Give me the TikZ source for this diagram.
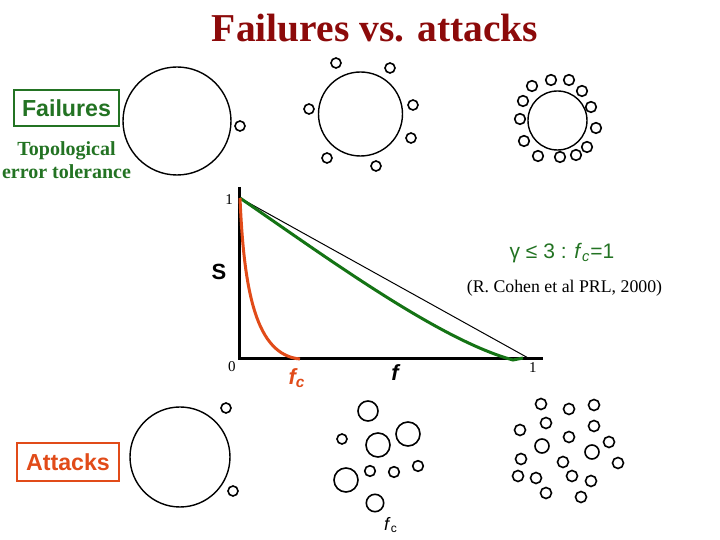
\documentclass[tikz,border=0pt]{standalone}
\usepackage{fontspec}
\setmainfont{Liberation Serif}
\setsansfont{Liberation Sans}
\usetikzlibrary{positioning}
\definecolor{titlered}{RGB}{140,10,10}
\definecolor{failgreen}{RGB}{35,115,35}
\definecolor{curvegreen}{RGB}{20,115,20}
\definecolor{attackred}{RGB}{225,75,25}

\begin{document}
\begin{tikzpicture}[x=0.5pt,y=-0.5pt,
  hub/.style={line width=0.7pt},
  leaf/.style={line width=0.8pt},
  labelbox/.style={draw,line width=1pt,inner sep=0pt,font=\sffamily\bfseries\fontsize{11.6}{14}\selectfont},
  axisline/.style={line width=1.5pt},
  tick/.style={font=\fontsize{7.5}{9}\selectfont}]
\useasboundingbox (0,0) rectangle (720,540);
\node[titlered,font=\bfseries\fontsize{19.75}{22}\selectfont] (title) at (375,28) {Failures vs. attacks};

% failures row
\node[labelbox,failgreen,minimum width=52.5pt,minimum height=18pt] (failbox) at (66.5,108) {Failures};
\node[below=4pt of failbox,failgreen,align=center,font=\bfseries\fontsize{10}{11.5}\selectfont] (tolerance) {Topological\\error tolerance};
\draw[hub] (177,121) circle (54);
\draw[leaf] (240,126) circle (5);
\draw[hub] (360.5,114) circle (42);
\foreach \x/\y in {336/63,390/68,309/109,413/105,411/138,327/158,376/166}
  \draw[leaf] (\x,\y) circle (5);
\draw[hub] (557.5,120.5) circle (29.5);
\foreach \x/\y in {532/86,551/80,569/80,582/91,591/107,596/128,587/147,576/155,560/157,538/156,524/141,520/119,523/101}
  \draw[leaf] (\x,\y) circle (5.3);

% plot
\coordinate (origin) at (240,359);
\coordinate (top) at (240,198);
\draw[axisline] (240,187) -- (origin) -- (543,359);
\node[tick] (one) at (229,200) {1};
\node[tick] (zero) at (232,367) {0};
\node[tick] (fone) at (533,368) {1};
\node[font=\sffamily\bfseries\fontsize{11}{12}\selectfont] (S) at (219,272) {S};
\draw[line width=0.5pt] (top) -- (530,359);
\draw[curvegreen,line width=1.5pt] (top) .. controls (330,260) and (440,340) .. (513,360) -- (523,358);
\draw[attackred,line width=1.5pt] (top) .. controls (244,292) and (256,355) .. (300,359);
\node[failgreen,font=\sffamily\fontsize{10.5}{12}\selectfont] (gamma) at (562,253) {γ ≤ 3 : \textit{f}\textsubscript{\textit{c}}=1};
\node[font=\fontsize{8.9}{10}\selectfont] (cohen) at (564.5,288) {(R. Cohen et al PRL, 2000)};
\node[attackred,font=\sffamily\bfseries\itshape\fontsize{11}{12}\selectfont] (fc) at (297,378) {f\textsubscript{c}};
\node[font=\sffamily\bfseries\itshape\fontsize{11}{12}\selectfont] (f) at (395,373) {f};

% attacks row
\node[labelbox,attackred,minimum width=51pt,minimum height=19pt] (attackbox) at (68,462) {Attacks};
\draw[hub] (180,457) circle (50);
\draw[leaf] (226,408) circle (5);
\draw[leaf] (233,491) circle (5);
\foreach \x/\y/\r in {368/411/10,342/439/5,378/445/12,408/434/12,346/480/12,370/471/5.3,394/472/5.3,418/466/5.3,375/503/8.7}
  \draw[leaf] (\x,\y) circle (\r);
\node[font=\sffamily\fontsize{9}{10}\selectfont] (fcbottom) at (391,525) {\textit{f}\textsubscript{c}};
\foreach \x/\y/\r in {541/404/5.5,569/409/5.5,594/405/5.5,520/430/5.5,546/423/5.5,594/426/5.5,569/437/5.5,542/446/7,609/442/5.5,592/452/7,521/459/5.5,563/462/5.5,618/463/5.5,518/476/5.5,536/478/5.5,572/476/5.5,591/481/5.5,546/493/5.5,581/497/5.5}
  \draw[leaf] (\x,\y) circle (\r);
\end{tikzpicture}
\end{document}
